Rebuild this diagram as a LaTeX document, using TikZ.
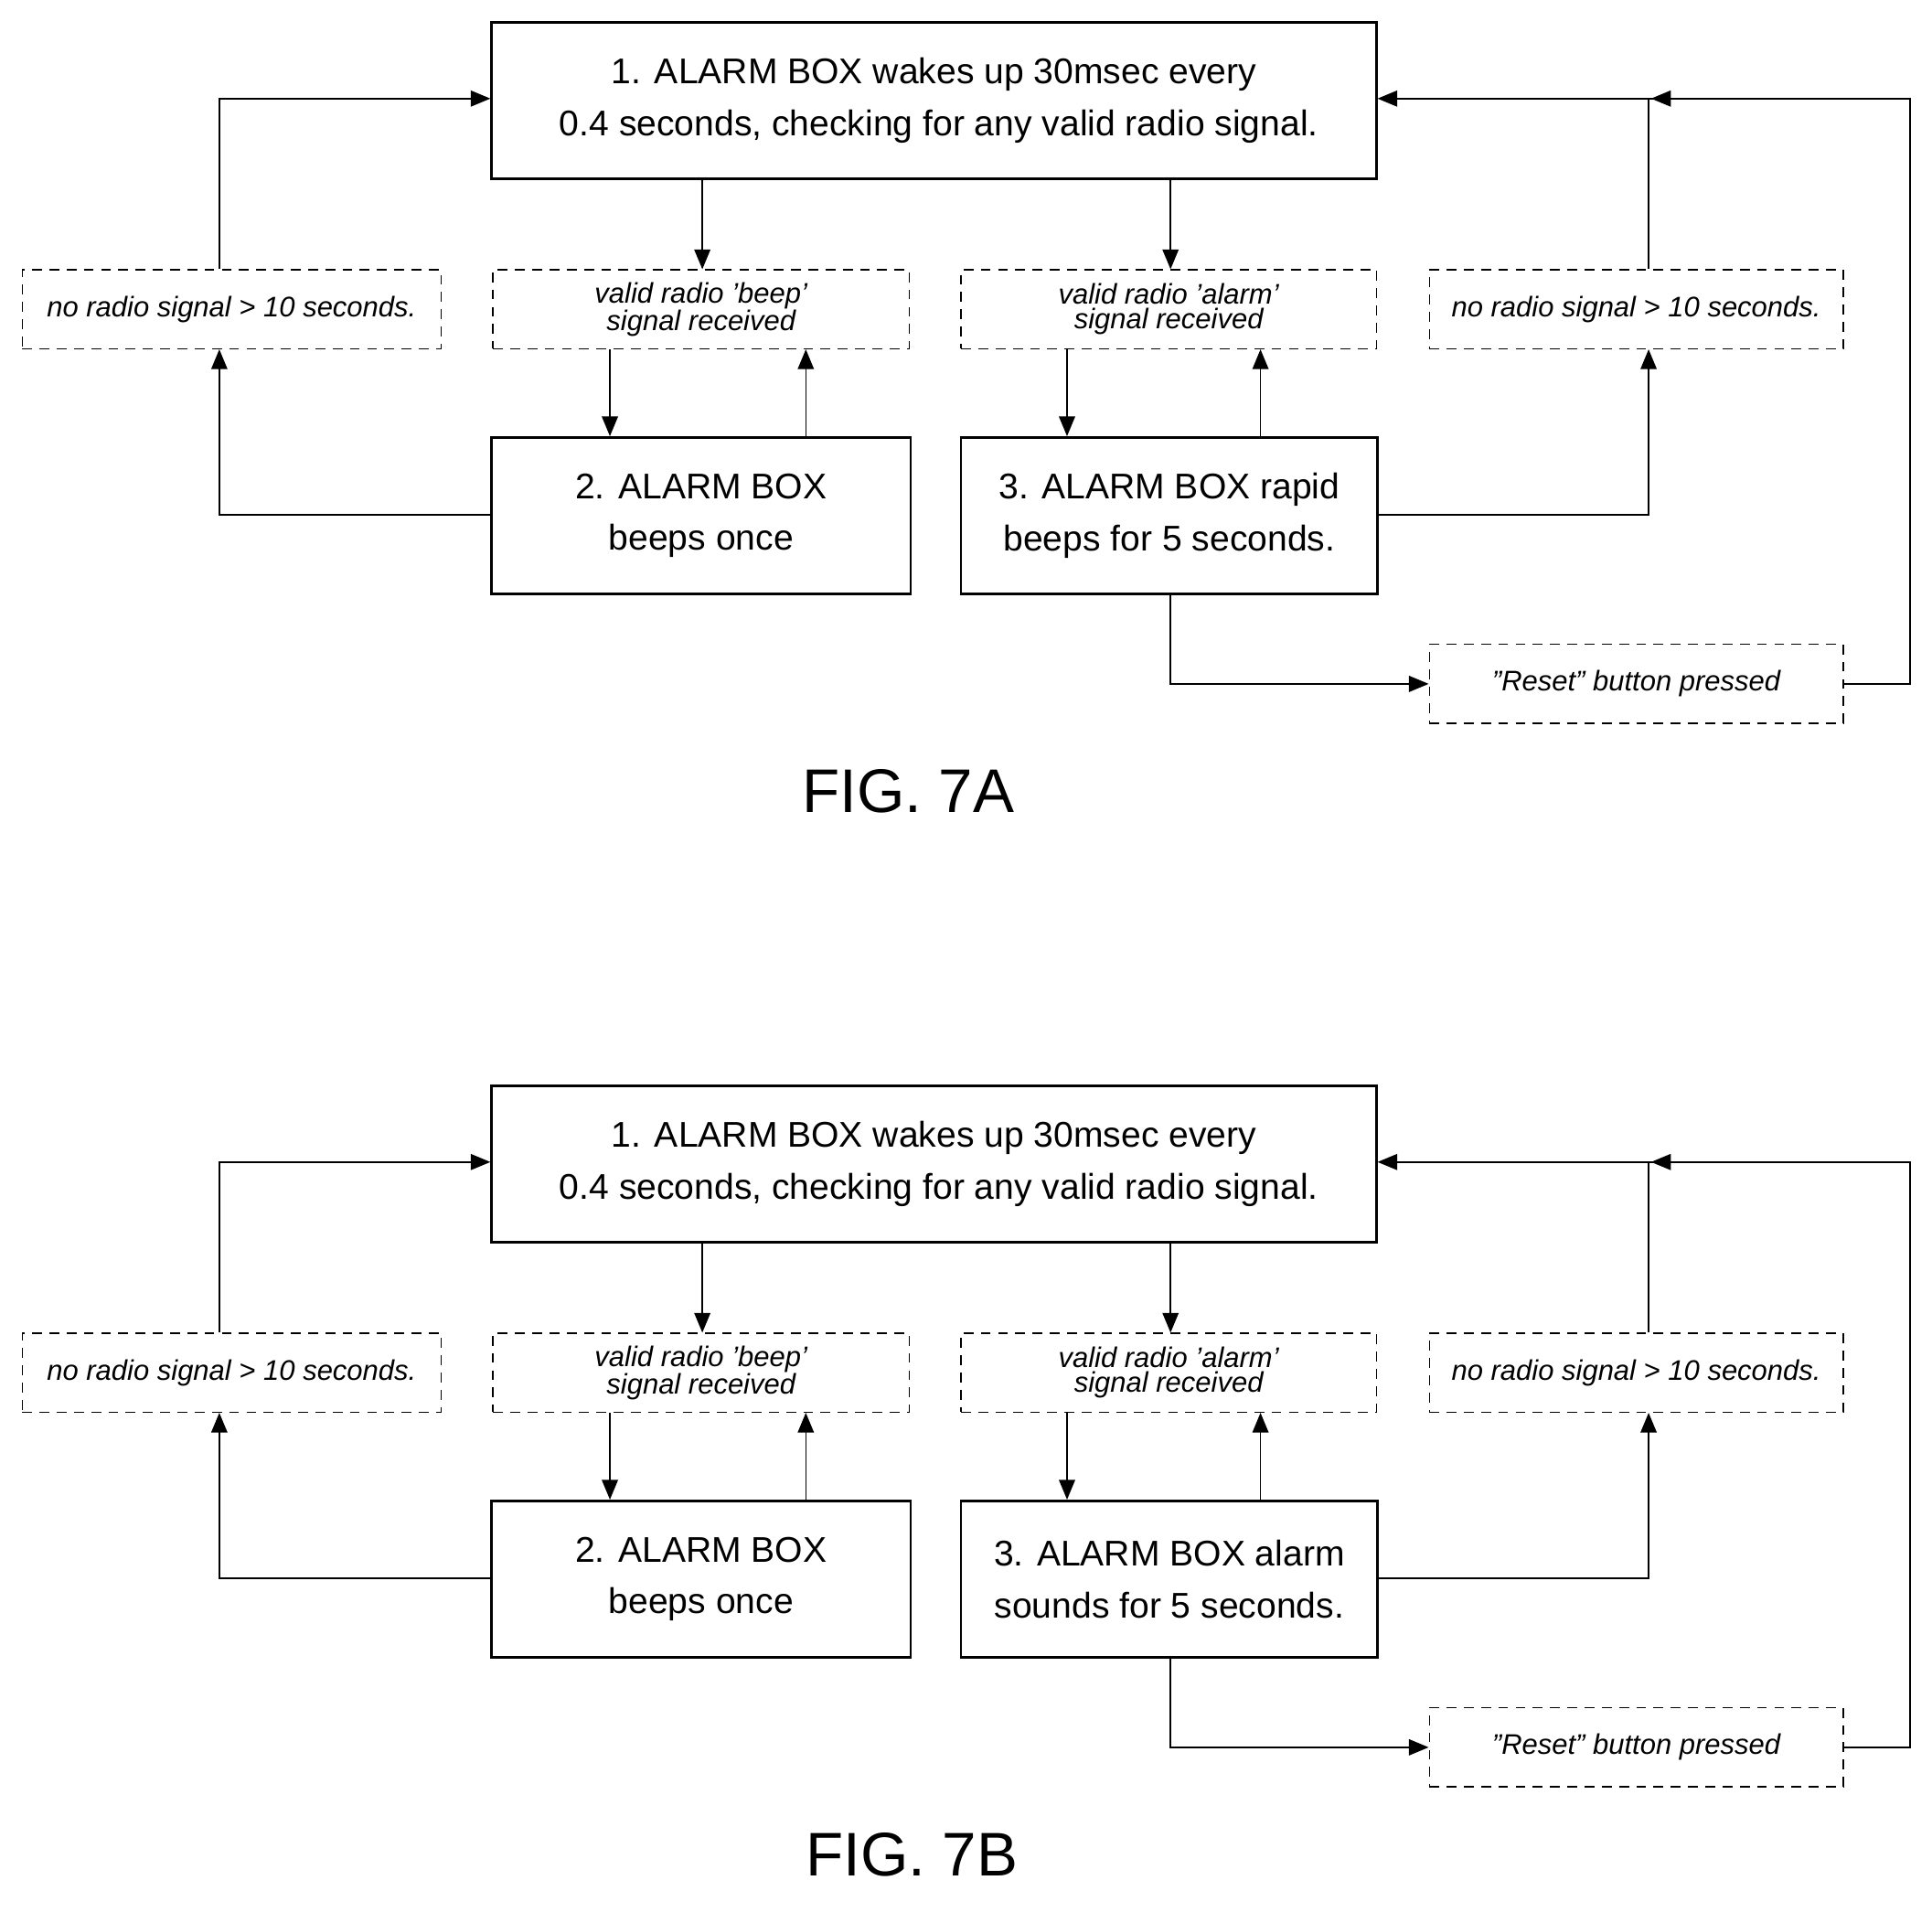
\documentclass[tikz,border=0pt]{standalone}
\usepackage{fontspec}
\setmainfont{Liberation Sans}
\usetikzlibrary{arrows.meta}
\begin{document}
\begin{tikzpicture}[x=1pt,y=-1pt,
  solid box/.style={draw,line width=2pt,inner sep=0pt,align=center,font=\fontsize{29}{42}\selectfont},
  dbox/.style={draw,dashed,dash pattern=on 8pt off 6pt,line width=1pt,inner sep=0pt,align=center,font=\fontsize{23}{20}\itshape\selectfont},
  arr/.style={line width=1.2pt,-{Triangle[length=16pt,width=13pt]}},
  ln/.style={line width=1.2pt}]
\useasboundingbox (0,0) rectangle (1568,1560);
\newcommand\myfig[5]{%
\begin{scope}[yshift=-#2pt]
\node[solid box,minimum width=718pt,minimum height=127pt] (top#1) at (758,81.5) {1. ALARM BOX wakes up 30msec every\\ \ 0.4 seconds, checking for any valid radio signal.};
\node[dbox,minimum width=340pt,minimum height=64pt] (nl#1) at (188,251) {no radio signal > 10 seconds.};
\node[dbox,minimum width=338pt,minimum height=64pt] (vb#1) at (569,251) {valid radio 'beep'\\signal received};
\node[dbox,minimum width=337pt,minimum height=64pt] (va#1) at (948.5,251) {valid radio 'alarm'\\signal received};
\node[dbox,minimum width=336pt,minimum height=64pt] (nr#1) at (1328,251) {no radio signal > 10 seconds.};
\node[solid box,minimum width=340pt,minimum height=127pt] (b2#1) at (569,418.5) {2. ALARM BOX\\beeps once};
\node[solid box,minimum width=338pt,minimum height=127pt] (b3#1) at (949,418.5) {#3};
\node[dbox,minimum width=336pt,minimum height=64pt] (rs#1) at (1328,555) {"Reset" button pressed};
\node[font=\fontsize{50}{50}\selectfont] (lab#1) at (#5,642) {#4};
\draw[arr] (top#1.south -| 570,0) -- (vb#1.north -| 570,0);
\draw[arr] (top#1.south -| 950,0) -- (va#1.north -| 950,0);
\draw[arr] (vb#1.south -| 495,0) -- (b2#1.north -| 495,0);
\draw[arr] (b2#1.north -| 654,0) -- (vb#1.south -| 654,0);
\draw[arr] (va#1.south -| 866,0) -- (b3#1.north -| 866,0);
\draw[arr] (b3#1.north -| 1023,0) -- (va#1.south -| 1023,0);
\draw[arr] (b2#1.west |- 0,418) -- (178,418) -- (nl#1.south -| 178,0);
\draw[arr] (nl#1.north -| 178,0) -- (178,80) -- (top#1.west |- 0,80);
\draw[arr] (b3#1.east |- 0,418) -- (1338,418) -- (nr#1.south -| 1338,0);
\draw[arr] (nr#1.north -| 1338,0) -- (1338,80) -- (top#1.east |- 0,80);
\draw[arr] (b3#1.south -| 950,0) -- (950,555) -- (rs#1.west);
\coordinate (c#1) at (1550,80);
\draw[ln] (rs#1.east) -- (1550,555) -- (c#1) -- (1338,80);
\draw[line width=1.2pt,-{Triangle[length=16pt,width=13pt]}] (c#1) -- (1340,80);
\end{scope}}
\myfig{a}{0}{3. ALARM BOX rapid\\beeps for 5 seconds.}{FIG. 7A}{737}
\myfig{b}{863}{3. ALARM BOX alarm\\sounds for 5 seconds.}{FIG. 7B}{740}
\end{tikzpicture}
\end{document}
